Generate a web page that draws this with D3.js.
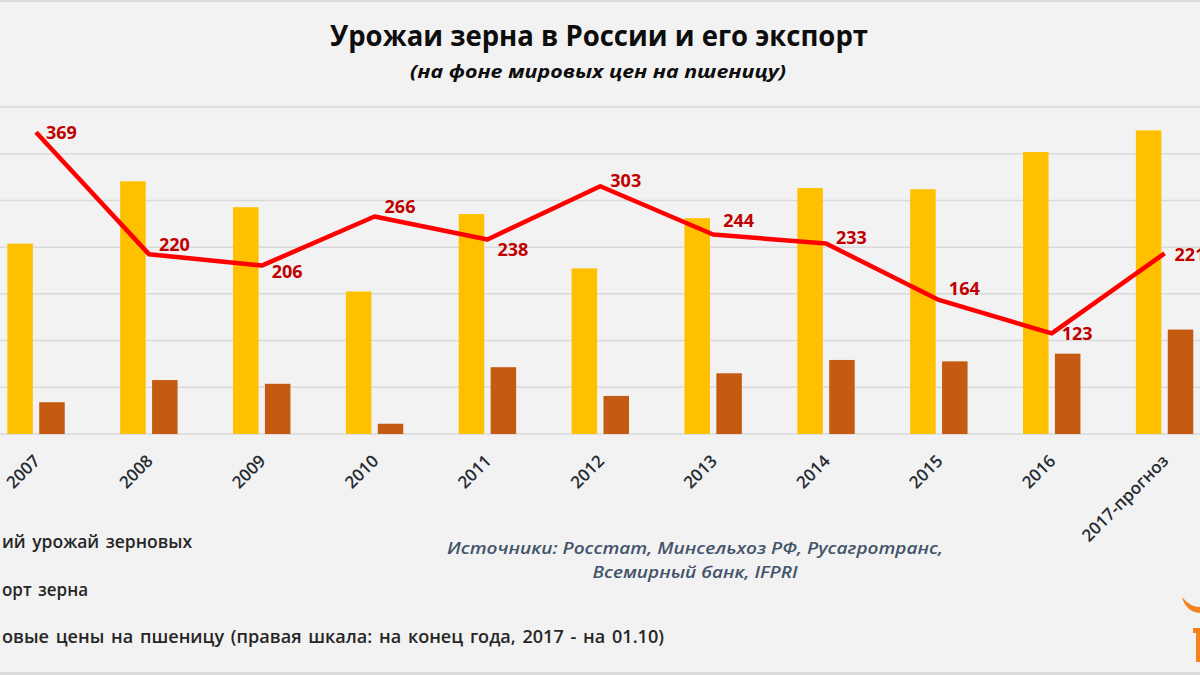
<!DOCTYPE html>
<html><head><meta charset="utf-8">
<script src="https://cdn.jsdelivr.net/npm/d3@7"></script>
<style>
html,body{margin:0;padding:0;background:#f2f2f2;}
svg{display:block;}
text{font-family:"Open Sans","Noto Sans",sans-serif;}
</style></head>
<body>
<script>
const categories = ["2007","2008","2009","2010","2011","2012","2013","2014","2015","2016","2017-прогноз"];
const harvest = [81.5,108.2,97.1,61.0,94.2,70.9,92.4,105.3,104.8,120.7,130.0];
const exportGrain = [13.6,23.1,21.5,4.4,28.6,16.3,26.0,31.7,31.1,34.4,44.7];
const wheatPrice = [369,220,206,266,238,303,244,233,164,123,221];
const wheatLabels = ["369","220","206","266","238","303","244","233","164","123","221"];
const labelShift = [0,-9,6,-10,10,-6,-14,-6,-11,0,1];
const leftTicks = [0,20,40,60,80,100,120,140];
const titleText = "Урожаи зерна в России и его экспорт";
const subtitleText = "(на фоне мировых цен на пшеницу)";
const sourceLines = ["Источники: Росстат, Минсельхоз РФ, Русагротранс,","Всемирный банк, IFPRI"];
const legendItems = [
  {full:"Общий урожай зерновых", hidden:3, visible:190},
  {full:"Экспорт зерна", hidden:4, visible:86},
  {full:"Мировые цены на пшеницу (правая шкала: на конец года, 2017 - на 01.10)", hidden:3, visible:662}
];

const W = 1200, H = 675;
const svg = d3.select("body").append("svg").attr("width", W).attr("height", H);
svg.append("rect").attr("width", W).attr("height", H).attr("fill", "#f2f2f2");
svg.append("rect").attr("x",0).attr("y",0).attr("width",W).attr("height",2).attr("fill","#dcdcdc");
svg.append("rect").attr("x",0).attr("y",H-3).attr("width",W).attr("height",3).attr("fill","#dcdcdc");

const x = d3.scaleBand().domain(categories).range([-20.4, 1221]).padding(0);
const xs = d3.scaleBand().domain(["h","e"]).range([-28.7, 28.7]).paddingInner(0.2);
const yL = d3.scaleLinear().domain([0,140]).range([434,107]);
const yR = d3.scaleLinear().domain([0,400]).range([434,107]);
const cx = d => x(d) + x.bandwidth()/2;

// gridlines
svg.append("g").selectAll("line").data(leftTicks).join("line")
  .attr("x1",0).attr("x2",W).attr("y1",d=>yL(d)).attr("y2",d=>yL(d))
  .attr("stroke","#d9d9d9").attr("stroke-width",1.5);

// bars
const g = svg.append("g");
g.selectAll("rect.h").data(categories).join("rect").attr("class","h")
  .attr("x",(d)=>cx(d)+xs("h")).attr("width",xs.bandwidth())
  .attr("y",(d,i)=>yL(harvest[i])).attr("height",(d,i)=>yL(0)-yL(harvest[i]))
  .attr("fill","#FFC000");
g.selectAll("rect.e").data(categories).join("rect").attr("class","e")
  .attr("x",(d)=>cx(d)+xs("e")).attr("width",xs.bandwidth())
  .attr("y",(d,i)=>yL(exportGrain[i])).attr("height",(d,i)=>yL(0)-yL(exportGrain[i]))
  .attr("fill","#C55A11");

// line
const line = d3.line().x((d,i)=>cx(categories[i])).y(d=>yR(d));
svg.append("path").datum(wheatPrice).attr("d",line).attr("fill","none")
  .attr("stroke","#FF0000").attr("stroke-width",4.5).attr("stroke-linejoin","round");
svg.append("g").selectAll("text").data(wheatPrice).join("text")
  .attr("x",(d,i)=>cx(categories[i])+10).attr("y",(d,i)=>yR(d)+labelShift[i])
  .attr("dy","0.35em").attr("fill","#C00000").attr("font-size",18).attr("font-weight","bold")
  .text((d,i)=>wheatLabels[i]);

// x axis labels
const xAxis = d3.axisBottom(x).tickSize(0).tickPadding(0);
const ax = svg.append("g").attr("transform","translate(0,434)").call(xAxis);
ax.select(".domain").remove();
ax.selectAll(".tick text")
  .attr("text-anchor","end").attr("dy",0).attr("y",0)
  .attr("transform","translate(5,28) rotate(-45)")
  .attr("font-size",17).attr("font-weight","600").attr("fill","#262b33")
  .style("font-family",'"Open Sans","Noto Sans",sans-serif');

// title
svg.append("text").attr("x",599).attr("y",46).attr("text-anchor","middle")
  .attr("font-size",28).attr("font-weight","bold").attr("fill","#0d0d0d")
  .attr("textLength",538).attr("lengthAdjust","spacingAndGlyphs").text(titleText);
svg.append("text").attr("x",598).attr("y",78).attr("text-anchor","middle")
  .attr("font-size",18.5).attr("font-weight","bold").attr("font-style","italic").attr("fill","#0d0d0d")
  .attr("textLength",376).attr("lengthAdjust","spacingAndGlyphs").text(subtitleText);

// sources
const srcW = [496,205];
svg.append("g").selectAll("text").data(sourceLines).join("text")
  .attr("x",695).attr("y",(d,i)=>554+i*24).attr("text-anchor","middle")
  .attr("font-size",17).attr("font-weight","600").attr("font-style","italic").attr("fill","#44546A")
  .attr("textLength",(d,i)=>srcW[i]).attr("lengthAdjust","spacingAndGlyphs").text(d=>d);

// legend (cut at left edge)
legendItems.forEach((it,i)=>{
  const t = svg.append("text").attr("y",548+i*47.5)
    .attr("font-size",17.5).attr("font-weight","600").attr("fill","#262626")
    .attr("word-spacing",2).text(it.full);
  const node = t.node();
  const total = node.getComputedTextLength();
  const pre = node.getSubStringLength(0,it.hidden);
  const s = it.visible/(total-pre);
  t.attr("textLength",total*s).attr("lengthAdjust","spacingAndGlyphs").attr("x",-pre*s+2);
});
// crop the cut-off letters at the left edge like the reference picture
svg.append("rect").attr("x",0).attr("y",520).attr("width",2).attr("height",130).attr("fill","#f2f2f2");

// logo fragment (decorative)
svg.append("path").attr("d","M1182,597 Q1186,612 1200,613 L1200,607 Q1190,607 1182,597 Z").attr("fill","#F5821F");
svg.append("path").attr("d","M1193,628 L1200,628 L1200,662 L1196,662 L1196,633 L1193,633 Z").attr("fill","#F5821F");
</script>
</body></html>
